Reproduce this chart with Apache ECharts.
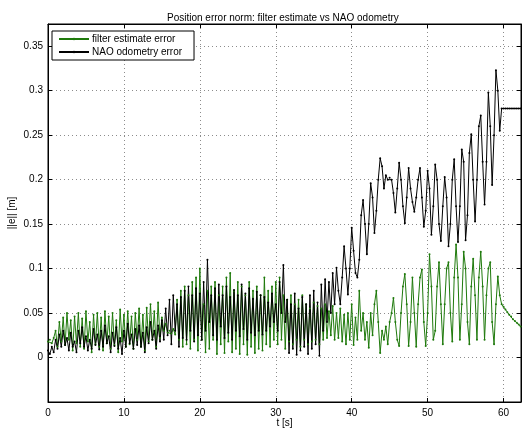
<!DOCTYPE html>
<html>
<head>
<meta charset="utf-8">
<title>Position error norm</title>
<script src="https://cdn.jsdelivr.net/npm/echarts@6/dist/echarts.min.js"></script>
<style>
html,body{margin:0;padding:0;background:#fff;}
#main{width:522px;height:428px;}
</style>
</head>
<body>
<div id="main"></div>
<script>
// both logs resampled every 0.25 s, starting at t = 0
var sampleStep = 0.25;
var xTicks = [0, 10, 20, 30, 40, 50, 60];
var yTicks = [0, 0.05, 0.1, 0.15, 0.2, 0.25, 0.3, 0.35];
var seriesNames = ['filter estimate error', 'NAO odometry error'];

// one row = one second (4 samples)
var filterErr = [
  0.018, 0.02, 0.016, 0.022,
  0.03, 0.012, 0.04, 0.018,
  0.045, 0.014, 0.05, 0.02,
  0.042, 0.008, 0.046, 0.016,
  0.05, 0.012, 0.044, 0.01,
  0.052, 0.018, 0.04, 0.006,
  0.048, 0.015, 0.05, 0.012,
  0.045, 0.008, 0.052, 0.016,
  0.046, 0.01, 0.05, 0.014,
  0.042, 0.006, 0.054, 0.018,
  0.048, 0.012, 0.052, 0.015,   // 10 s
  0.046, 0.01, 0.05, 0.02,
  0.055, 0.012, 0.048, 0.008,
  0.056, 0.018, 0.06, 0.02,
  0.052, 0.012, 0.062, 0.022,
  0.045, 0.03, 0.038, 0.028,    // 15 s
  0.03, 0.027, 0.032, 0.026,
  0.065, 0.02, 0.075, 0.012,
  0.08, 0.015, 0.07, 0.01,
  0.085, 0.02, 0.09, 0.008,
  0.1, 0.02, 0.06, 0.006,       // 20 s
  0.075, 0.01, 0.08, 0.02,
  0.085, 0.004, 0.07, 0.015,
  0.08, 0.005, 0.09, 0.018,
  0.095, 0.006, 0.075, 0.01,
  0.085, 0.004, 0.08, 0.015,    // 25 s
  0.07, 0.003, 0.085, 0.012,
  0.075, 0.005, 0.08, 0.01,
  0.07, 0.008, 0.09, 0.015,
  0.075, 0.012, 0.08, 0.02,
  0.085, 0.015, 0.09, 0.02,     // 30 s
  0.07, 0.01, 0.065, 0.018,
  0.07, 0.015, 0.06, 0.02,
  0.065, 0.012, 0.07, 0.02,
  0.06, 0.015, 0.055, 0.018,
  0.062, 0.02, 0.058, 0.015,    // 35 s
  0.055, 0.02, 0.06, 0.022,
  0.052, 0.025, 0.058, 0.02,
  0.05, 0.022, 0.055, 0.018,
  0.048, 0.015, 0.05, 0.02,
  0.06, 0.014, 0.045, 0.02,     // 40 s
  0.075, 0.03, 0.05, 0.02,
  0.04, 0.011, 0.05, 0.025,
  0.06, 0.075, 0.04, 0.005,
  0.03, 0.02, 0.035, 0.015,
  0.04, 0.05, 0.067, 0.04,      // 45 s
  0.02, 0.013, 0.05, 0.08,
  0.094, 0.06, 0.013, 0.04,
  0.09, 0.05, 0.012, 0.06,
  0.09, 0.099, 0.04, 0.013,
  0.05, 0.116, 0.08, 0.02,      // 50 s
  0.03, 0.08, 0.107, 0.06,
  0.015, 0.06, 0.1, 0.107,
  0.05, 0.018, 0.09, 0.127,
  0.09, 0.02, 0.06, 0.119,
  0.1, 0.04, 0.015, 0.08,       // 55 s
  0.111, 0.07, 0.02, 0.09,
  0.119, 0.08, 0.02, 0.07,
  0.1, 0.107, 0.04, 0.015,
  0.06, 0.091, 0.07, 0.06,
  0.057, 0.054, 0.051, 0.048,   // 60 s
  0.046, 0.043, 0.041, 0.039,
  0.037, 0.035
];

var naoErr = [
  0.008, 0.004, 0.012, 0.006,
  0.02, 0.01, 0.026, 0.012,
  0.03, 0.014, 0.022, 0.008,
  0.028, 0.012, 0.018, 0.006,
  0.03, 0.016, 0.034, 0.012,
  0.024, 0.008, 0.02, 0.01,
  0.032, 0.014, 0.026, 0.009,
  0.03, 0.012, 0.036, 0.016,
  0.024, 0.006, 0.028, 0.013,
  0.034, 0.01, 0.022, 0.004,
  0.03, 0.012, 0.038, 0.016,    // 10 s
  0.026, 0.01, 0.032, 0.014,
  0.036, 0.012, 0.028, 0.006,
  0.034, 0.016, 0.04, 0.02,
  0.03, 0.01, 0.036, 0.018,
  0.042, 0.02, 0.055, 0.025,    // 15 s
  0.065, 0.015, 0.07, 0.03,
  0.06, 0.012, 0.068, 0.022,
  0.075, 0.02, 0.08, 0.03,
  0.07, 0.018, 0.078, 0.025,
  0.072, 0.02, 0.085, 0.03,     // 20 s
  0.11, 0.04, 0.07, 0.025,
  0.078, 0.02, 0.082, 0.035,
  0.07, 0.022, 0.08, 0.028,
  0.068, 0.02, 0.076, 0.03,
  0.07, 0.024, 0.082, 0.032,    // 25 s
  0.072, 0.02, 0.078, 0.028,
  0.066, 0.025, 0.074, 0.03,
  0.07, 0.026, 0.068, 0.03,
  0.062, 0.035, 0.072, 0.04,
  0.06, 0.03, 0.085, 0.05,      // 30 s
  0.104, 0.04, 0.065, 0.005,
  0.06, 0.01, 0.072, 0.003,
  0.055, 0.008, 0.068, 0.012,
  0.06, 0.004, 0.07, 0.01,
  0.075, 0.015, 0.062, 0.002,   // 35 s
  0.082, 0.03, 0.088, 0.04,
  0.085, 0.05, 0.095, 0.06,
  0.101, 0.075, 0.06, 0.09,
  0.125, 0.1, 0.071, 0.1,
  0.146, 0.12, 0.095, 0.09,     // 40 s
  0.11, 0.16, 0.177, 0.15,
  0.116, 0.15, 0.196, 0.18,
  0.14, 0.165, 0.2, 0.224,
  0.215, 0.19, 0.205, 0.2,
  0.202, 0.2, 0.185, 0.163,     // 45 s
  0.19, 0.219, 0.2, 0.17,
  0.151, 0.18, 0.213, 0.19,
  0.175, 0.164, 0.18, 0.2,
  0.213, 0.18, 0.147, 0.165,
  0.21, 0.19, 0.138, 0.17,      // 50 s
  0.217, 0.2, 0.15, 0.131,
  0.17, 0.203, 0.18, 0.125,
  0.15, 0.2, 0.223, 0.17,
  0.13, 0.17, 0.234, 0.22,
  0.132, 0.16, 0.23, 0.251,     // 55 s
  0.2, 0.153, 0.2, 0.26,
  0.272, 0.22, 0.172, 0.22,
  0.298, 0.26, 0.194, 0.25,
  0.323, 0.3, 0.255, 0.28,
  0.28, 0.28, 0.28, 0.28,       // 60 s
  0.28, 0.28, 0.28, 0.28,
  0.28, 0.28
];

var green = '#1f7a0c';
var font = 'Liberation Sans, Arial, Helvetica, sans-serif';

function toPairs(vals) {
  return vals.map(function (v, i) { return [i * sampleStep, v]; });
}
function inList(list, v) {
  for (var i = 0; i < list.length; i++) {
    if (Math.abs(list[i] - v) < 1e-6) return true;
  }
  return false;
}

var chart = echarts.init(document.getElementById('main'));

var tickStyle = {inside: true, length: 4, lineStyle: {color: '#000', width: 1}};
var gridLine = {show: true, lineStyle: {color: '#8c8c8c', width: 1, type: [1, 3]}};
var frameLine = {onZero: false, lineStyle: {color: '#000', width: 1}};

var option = {
  animation: false,
  backgroundColor: '#fff',
  title: {
    text: 'Position error norm: filter estimate vs NAO odometry',
    left: 162, top: 8,
    textStyle: {fontFamily: font, fontSize: 10, fontWeight: 'normal', color: '#000'}
  },
  legend: {
    data: seriesNames,
    orient: 'vertical',
    left: 52, top: 31,
    padding: [3, 12, 3, 6],
    itemGap: 3,
    itemWidth: 30,
    itemHeight: 3,
    borderColor: '#000', borderWidth: 1, borderRadius: 0,
    backgroundColor: '#fff',
    textStyle: {fontFamily: font, fontSize: 10, color: '#000', padding: [0, 0, 0, -2]}
  },
  grid: {left: 48, right: 1, top: 24, bottom: 26, show: true, borderColor: '#000', borderWidth: 1,
         outerBoundsMode: 'none', containLabel: false},
  xAxis: [{
    type: 'value', min: 0, max: 62.3, interval: 10,
    name: 't [s]', nameLocation: 'middle', nameGap: 21, nameMoveOverlap: false,
    nameTextStyle: {fontFamily: font, fontSize: 10, color: '#000', verticalAlign: 'middle'},
    axisLine: frameLine,
    axisTick: tickStyle,
    axisLabel: {
      margin: 6, fontFamily: font, fontSize: 10, color: '#000',
      formatter: function (v) { return inList(xTicks, v) ? String(v) : ''; }
    },
    splitLine: gridLine
  }, {
    type: 'value', position: 'top', min: 0, max: 62.3, interval: 10,
    axisLine: frameLine,
    axisTick: tickStyle,
    axisLabel: {show: false},
    splitLine: {show: false}
  }],
  yAxis: [{
    type: 'value', min: -0.05, max: 0.375, interval: 0.05,
    name: '||e|| [m]', nameLocation: 'middle', nameGap: 36, nameMoveOverlap: false,
    nameTextStyle: {fontFamily: font, fontSize: 10, color: '#000', verticalAlign: 'middle'},
    axisLine: frameLine,
    axisTick: tickStyle,
    axisLabel: {
      margin: 5, fontFamily: font, fontSize: 10, color: '#000',
      formatter: function (v) { return inList(yTicks, v) ? String(+v.toFixed(3)) : ''; }
    },
    splitLine: gridLine
  }, {
    type: 'value', position: 'right', min: -0.05, max: 0.375, interval: 0.05,
    axisLine: frameLine,
    axisTick: tickStyle,
    axisLabel: {show: false},
    splitLine: {show: false}
  }],
  series: [{
    name: seriesNames[0], type: 'line',
    data: toPairs(filterErr),
    symbol: 'circle', symbolSize: 2, showAllSymbol: true,
    lineStyle: {width: 1, color: green},
    itemStyle: {color: green},
    silent: true
  }, {
    name: seriesNames[1], type: 'line',
    data: toPairs(naoErr),
    symbol: 'circle', symbolSize: 2, showAllSymbol: true,
    lineStyle: {width: 1, color: '#000'},
    itemStyle: {color: '#000'},
    silent: true
  }]
};

chart.setOption(option);
</script>
</body>
</html>
